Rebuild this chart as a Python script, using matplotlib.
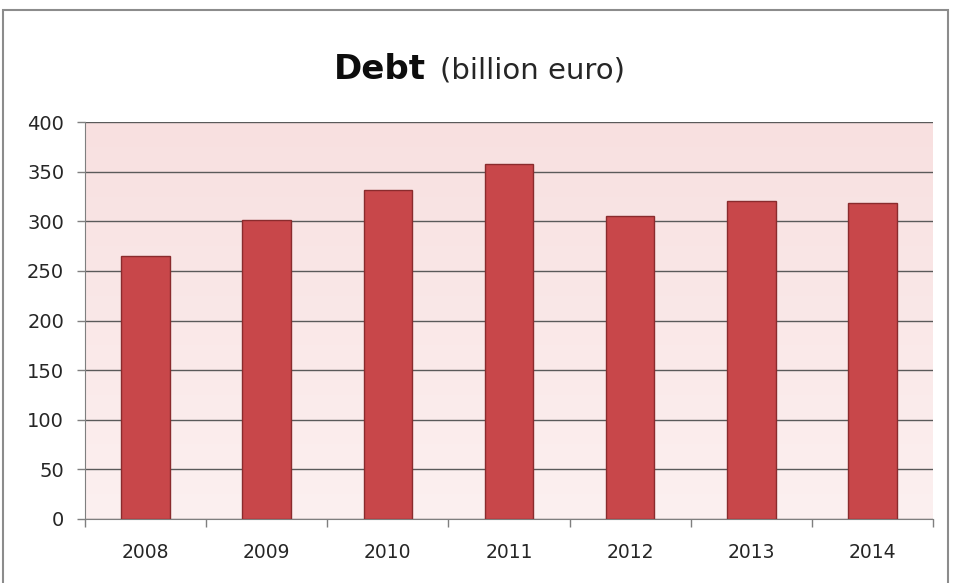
import numpy as np
import matplotlib.pyplot as plt
from matplotlib.colors import LinearSegmentedColormap
from matplotlib.patches import Rectangle

# data
years = ['2008', '2009', '2010', '2011', '2012', '2013', '2014']
debt = [265, 301, 331, 358, 305, 320, 318]
y_ticks = [0, 50, 100, 150, 200, 250, 300, 350, 400]

plt.rcParams['font.family'] = ['DejaVu Sans']

fig = plt.figure(figsize=(9.6, 5.83), dpi=100)
fig.patch.set_facecolor('white')

# outer chart frame
fig.add_artist(Rectangle((3 / 960, -0.01), 945 / 960, 1 - 10 / 583 + 0.01,
                         transform=fig.transFigure, fill=False,
                         edgecolor='#8c8c8c', linewidth=1.5))

ax = fig.add_axes([85 / 960, (583 - 519) / 583, (933 - 85) / 960, (519 - 122) / 583])

# pink gradient plot area
grad = LinearSegmentedColormap.from_list('bg', ['#fcf0f0', '#f8e0e0'])
ax.imshow(np.linspace(0, 1, 256).reshape(-1, 1), cmap=grad, aspect='auto',
          origin='lower', extent=[-0.5, len(years) - 0.5, 0, 400], zorder=0)

x = np.arange(len(years))
ax.bar(x, debt, width=0.4, color='#c8474a', edgecolor='#8a2b2d',
       linewidth=1.0, zorder=3)

ax.set_xlim(-0.5, len(years) - 0.5)
ax.set_ylim(0, 400)
ax.set_yticks(y_ticks)
ax.set_yticklabels([str(v) for v in y_ticks], fontsize=14, color='#262626')
ax.yaxis.grid(True, color='#5a5a5a', linewidth=1.0, zorder=1)

# category labels centered, ticks between categories
ax.set_xticks(x)
ax.set_xticklabels(years, fontsize=13.5, color='#262626')
ax.tick_params(axis='x', length=0, pad=17)
ax.set_xticks(np.arange(-0.5, len(years)), minor=True)
ax.tick_params(axis='x', which='minor', length=6, width=1, color='#7f7f7f', direction='out')
ax.tick_params(axis='y', length=6, width=1, color='#7f7f7f', pad=9)

for side in ['top', 'right']:
    ax.spines[side].set_visible(False)
ax.spines['left'].set_color('#7f7f7f')
ax.spines['bottom'].set_color('#7f7f7f')

# title: bold "Debt" plus normal "(billion euro)"
fig.text(426 / 960, 1 - 79 / 583, 'Debt', fontsize=24.5, fontweight='bold',
         ha='right', va='baseline', color='#0d0d0d')
fig.text(440 / 960, 1 - 79 / 583, '(billion euro)', fontsize=21,
         ha='left', va='baseline', color='#262626')

fig.savefig('out.png', dpi=100)
